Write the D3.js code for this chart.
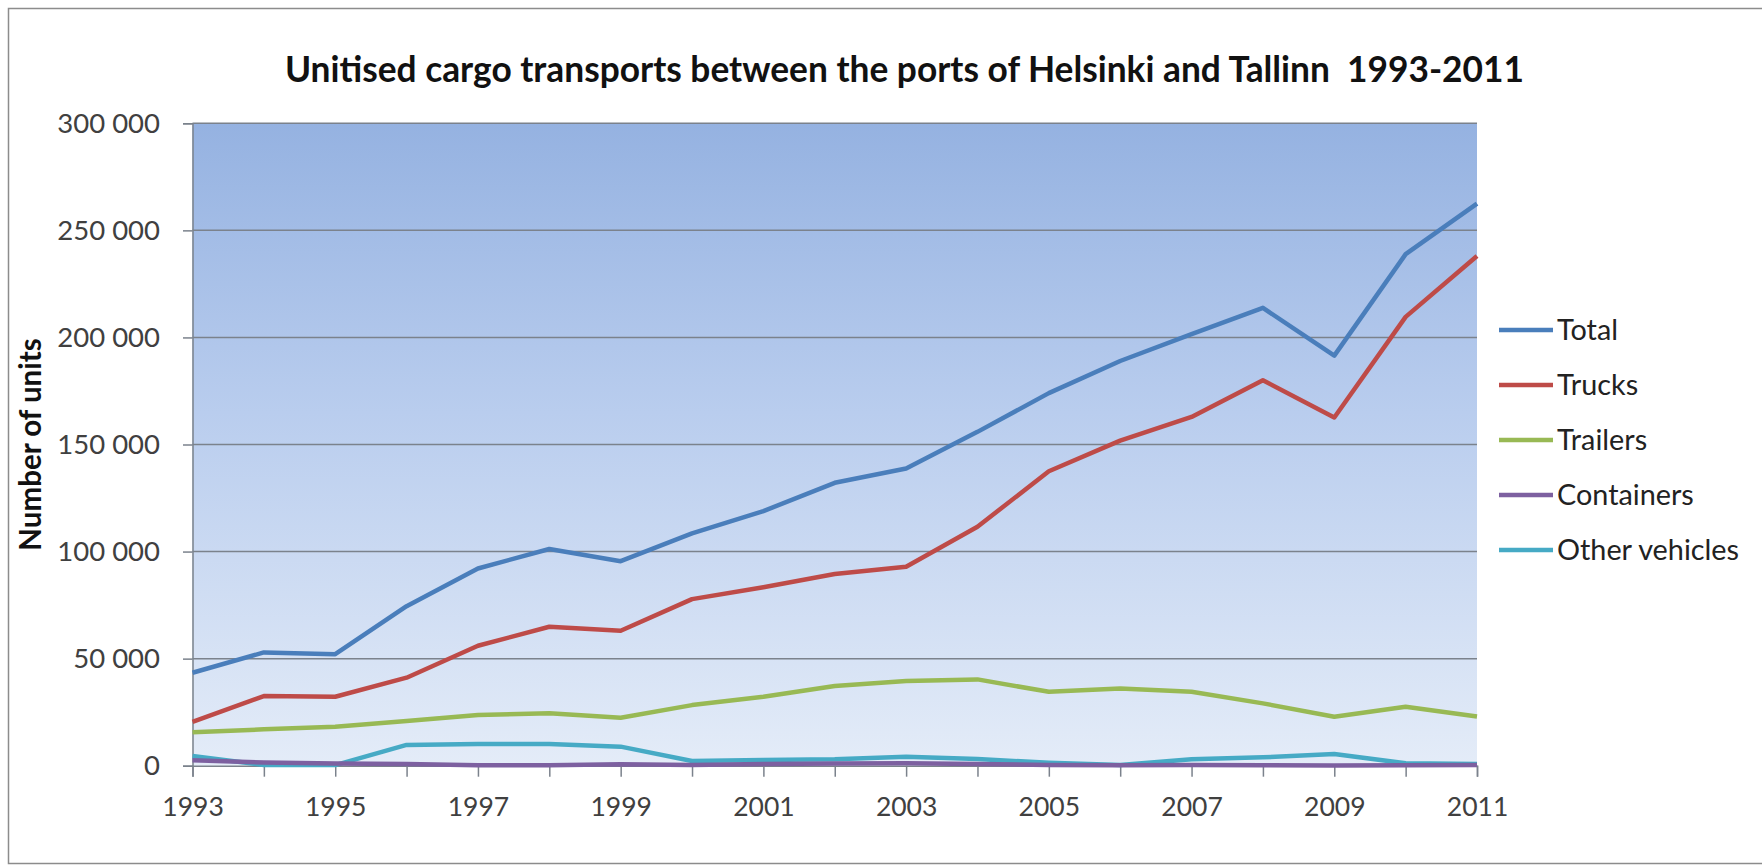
<!DOCTYPE html>
<html>
<head>
<meta charset="utf-8">
<script src="https://cdn.jsdelivr.net/npm/d3@7"></script>
<style>
  body { margin: 0; background: #fff; }
  svg { display: block; font-family: Lato, "Open Sans", sans-serif; }
</style>
</head>
<body>
<div id="chart"></div>
<script>
// data
const years = [1993, 1994, 1995, 1996, 1997, 1998, 1999, 2000, 2001, 2002,
               2003, 2004, 2005, 2006, 2007, 2008, 2009, 2010, 2011];
const total = [43400, 52900, 52100, 74500, 92100, 101200, 95500, 108500, 118900, 132100,
               138800, 155900, 174000, 189000, 201500, 213800, 191500, 238900, 262500];
const trucks = [20500, 32500, 32200, 41100, 56000, 64900, 63000, 77800, 83300, 89500,
                92900, 111600, 137500, 151800, 162900, 180000, 162600, 209600, 238000];
const trailers = [15600, 17000, 18200, 20900, 23700, 24500, 22400, 28300, 32200, 37200,
                  39500, 40300, 34500, 36100, 34500, 29100, 22900, 27500, 23000];
const containers = [2600, 1500, 1000, 800, 200, 200, 700, 300, 800, 1000,
                    1200, 800, 300, 200, 300, 200, 100, 200, 300];
const otherVehicles = [4500, 300, 300, 9700, 10100, 10100, 8900, 2200, 2700, 3000,
                       4200, 3100, 1400, 300, 3000, 3900, 5500, 1100, 800];
const seriesNames = ["Total", "Trucks", "Trailers", "Containers", "Other vehicles"];
const seriesColors = ["#4a7ebb", "#be4b48", "#98b954", "#7d60a0", "#46aac5"];
const yTicks = [0, 50000, 100000, 150000, 200000, 250000, 300000];

const series = [total, trucks, trailers, containers, otherVehicles].map((vals, i) => ({
  name: seriesNames[i],
  color: seriesColors[i],
  values: vals.map((v, j) => ({ year: years[j], value: v }))
}));

const width = 1762, height = 868;
const margin = { top: 123.3, right: 285, bottom: 102.3, left: 192.5 };

const svg = d3.select("#chart").append("svg")
  .attr("width", width)
  .attr("height", height);

// outer frame
svg.append("rect")
  .attr("x", 8.5).attr("y", 8.5)
  .attr("width", width + 10).attr("height", 855)
  .attr("fill", "#fff")
  .attr("stroke", "#8c8c8c")
  .attr("stroke-width", 1.5);

const x = d3.scaleLinear()
  .domain([1993, 2011])
  .range([margin.left, width - margin.right]);

const y = d3.scaleLinear()
  .domain([0, 300000])
  .range([height - margin.bottom, margin.top]);

// plot background gradient
const grad = svg.append("defs").append("linearGradient")
  .attr("id", "plotBg")
  .attr("x1", 0).attr("y1", 0).attr("x2", 0).attr("y2", 1);
grad.append("stop").attr("offset", "0%").attr("stop-color", "#95b2e1");
grad.append("stop").attr("offset", "45%").attr("stop-color", "#b9cdee");
grad.append("stop").attr("offset", "100%").attr("stop-color", "#e4ecf8");

svg.append("rect")
  .attr("x", x(1993)).attr("y", y(300000))
  .attr("width", x(2011) - x(1993))
  .attr("height", y(0) - y(300000))
  .attr("fill", "url(#plotBg)");

// gridlines
svg.append("g")
  .selectAll("line")
  .data(yTicks.filter(d => d > 0))
  .join("line")
  .attr("x1", x(1993)).attr("x2", x(2011))
  .attr("y1", d => y(d)).attr("y2", d => y(d))
  .attr("stroke", "#7b828c")
  .attr("stroke-width", 1.5);

const fmt = d3.formatLocale({ decimal: ",", thousands: " ", grouping: [3], currency: ["", ""] }).format(",");

// y axis
const yAxis = svg.append("g")
  .attr("transform", `translate(${x(1993)},0)`)
  .call(d3.axisLeft(y).tickValues(yTicks).tickFormat(fmt).tickSize(9.5).tickPadding(23))
  .attr("font-family", null);
yAxis.select(".domain").attr("stroke", "#7b828c").attr("stroke-width", 1.5);
yAxis.selectAll(".tick line").attr("stroke", "#7b828c").attr("stroke-width", 1.5);
yAxis.selectAll("text")
  .attr("font-size", 27.5)
  .attr("fill", "#404040");

// x axis: tick every year, label every other
const xAxis = svg.append("g")
  .attr("transform", `translate(0,${y(0)})`)
  .call(d3.axisBottom(x).tickValues(years)
    .tickFormat(d => (d - 1993) % 2 === 0 ? d : "")
    .tickSize(11).tickPadding(20))
  .attr("font-family", null);
xAxis.select(".domain").attr("stroke", "#7b828c").attr("stroke-width", 1.5);
xAxis.selectAll(".tick line").attr("stroke", "#7b828c").attr("stroke-width", 1.5);
xAxis.selectAll("text")
  .attr("font-size", 26.5)
  .attr("fill", "#404040");

// lines
const line = d3.line()
  .x(d => x(d.year))
  .y(d => y(d.value));

svg.append("g")
  .selectAll("path")
  .data(series.slice().reverse())
  .join("path")
  .attr("fill", "none")
  .attr("stroke", d => d.color)
  .attr("stroke-width", 4.5)
  .attr("stroke-linejoin", "round")
  .attr("d", d => line(d.values));

// title
svg.append("text")
  .attr("x", 904.5)
  .attr("y", 82)
  .attr("text-anchor", "middle")
  .attr("font-size", 35.3)
  .attr("font-weight", "bold")
  .attr("fill", "#111")
  .style("white-space", "pre")
  .text("Unitised cargo transports between the ports of Helsinki and Tallinn  1993-2011");

// y axis title
svg.append("text")
  .attr("transform", `translate(41,${(y(0) + y(300000)) / 2}) rotate(-90)`)
  .attr("text-anchor", "middle")
  .attr("font-size", 29.5)
  .attr("font-weight", "bold")
  .attr("fill", "#111")
  .text("Number of units");

// legend
const legend = svg.append("g")
  .selectAll("g")
  .data(series)
  .join("g")
  .attr("transform", (d, i) => `translate(1499,${330 + i * 55})`);

legend.append("line")
  .attr("x1", 0).attr("x2", 54)
  .attr("stroke", d => d.color)
  .attr("stroke-width", 4.5);

legend.append("text")
  .attr("x", 58)
  .attr("dy", "0.36em")
  .attr("font-size", 28.8)
  .attr("fill", "#222")
  .text(d => d.name);
</script>
</body>
</html>
